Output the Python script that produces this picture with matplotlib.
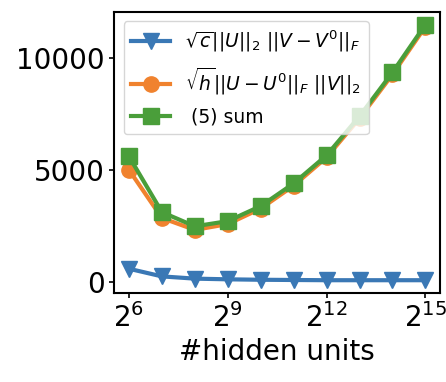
import numpy as np
import matplotlib
matplotlib.use("Agg")
from matplotlib import pyplot as plt

# hidden units 2^6 .. 2^15
hidden = [2 ** k for k in range(6, 16)]
term_v = [600, 260, 160, 130, 110, 100, 90, 90, 90, 90]
term_u = [5000, 2860, 2330, 2590, 3280, 4300, 5560, 7300, 9250, 11380]
total = [a + b for a, b in zip(term_v, term_u)]

fig = plt.figure(figsize=(4.46, 3.82), dpi=100)
ax = fig.add_axes([0.256, 0.233, 0.731, 0.736])

ax.plot(hidden, term_v, 'v-', color='#3a78b5', lw=3, ms=11,
        label=r'$\sqrt{c}||U||_2\ ||V-V^0||_F$')
ax.plot(hidden, term_u, 'o-', color='#f0822e', lw=3, ms=11,
        label=r'$\sqrt{h}||U-U^0||_F\ ||V||_2$')
ax.plot(hidden, total, 's-', color='#4a9e3a', lw=3, ms=11,
        label=' (5) sum')

ax.set_xscale('log', base=2)
ax.set_xticks([2 ** 6, 2 ** 9, 2 ** 12, 2 ** 15])
ax.minorticks_off()
ax.set_yticks([0, 5000, 10000])
ax.tick_params(labelsize=20, width=1.2)
for s in ax.spines.values():
    s.set_linewidth(1.5)
ax.set_xlabel('#hidden units', fontsize=20)
ax.legend(loc='upper left', fontsize=13.5, handlelength=2.1, labelspacing=0.6)

fig.savefig('out.png', dpi=100)
